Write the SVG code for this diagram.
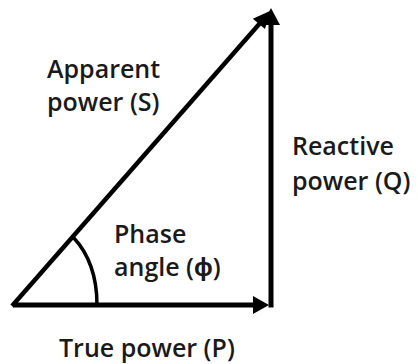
<svg xmlns="http://www.w3.org/2000/svg" width="418" height="364" viewBox="0 0 418 364">
<style>
.t{font-family:"Open Sans","Liberation Sans",sans-serif;font-size:25px;font-weight:600;fill:#1a1a1a}
.ln{stroke:#000;fill:none;stroke-linecap:butt}
.hd{fill:#000}
</style>
<rect width="418" height="364" fill="#fff"/>
<g id="connectors">
<line class="ln" x1="13" y1="305" x2="256" y2="305" stroke-width="5"/>
<polygon class="hd" points="269,305 253,296 253,314"/>
<line class="ln" x1="271" y1="307.5" x2="271" y2="22" stroke-width="5"/>
<polygon class="hd" points="271,8 262,25 280,25"/>
<line class="ln" x1="12" y1="306" x2="261" y2="22" stroke-width="4.5"/>
<polygon class="hd" points="270,11 252.8,18.7 265,29.1"/>
<path class="ln" d="M97 305 C97 278 90 255 73 237" stroke-width="3.5"/>
</g>
<g id="apparent"><text class="t" x="47" y="78">Apparent</text><text class="t" x="47" y="111">power (S)</text></g>
<g id="reactive"><text class="t" x="292" y="155">Reactive</text><text class="t" x="292" y="190">power (Q)</text></g>
<g id="phase"><text class="t" x="114" y="243" font-size="24">Phase</text><text class="t" x="114" y="276" font-size="24">angle (ϕ)</text></g>
<g id="true"><text class="t" x="59" y="357">True power (P)</text></g>
</svg>
